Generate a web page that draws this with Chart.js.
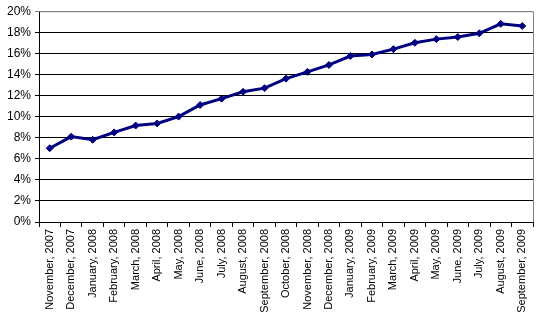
<!DOCTYPE html>
<html>
<head>
<meta charset="utf-8">
<script src="https://cdn.jsdelivr.net/npm/chart.js@4"></script>
<style>
  html, body { margin: 0; padding: 0; background: #fff; }
  #wrap { width: 540px; height: 315px; }
</style>
</head>
<body>
<div id="wrap"><canvas id="lineChart" width="540" height="315"></canvas></div>
<script>
// categories (months)
const months = ['November, 2007', 'December, 2007', 'January, 2008', 'February, 2008', 'March, 2008',
    'April, 2008', 'May, 2008', 'June, 2008', 'July, 2008', 'August, 2008', 'September, 2008',
    'October, 2008', 'November, 2008', 'December, 2008', 'January, 2009', 'February, 2009',
    'March, 2009', 'April, 2009', 'May, 2009', 'June, 2009', 'July, 2009', 'August, 2009', 'September, 2009'];
// series values, percent
const shares = [7.0, 8.1, 7.8, 8.5, 9.15, 9.35, 10.0, 11.1, 11.7, 12.35, 12.7, 13.6, 14.25, 14.9,
    15.75, 15.9, 16.4, 17.0, 17.35, 17.55, 17.9, 18.8, 18.6];
// y ticks
const yTicks = [0, 2, 4, 6, 8, 10, 12, 14, 16, 18, 20];

const lineColor = '#000080';
const fontFamily = "'Liberation Sans', Arial, sans-serif";

// gray frame on top and right of plot area
const frame = {
    id: 'frame',
    afterDraw(chart) {
        const a = chart.chartArea, c = chart.ctx;
        c.save();
        c.strokeStyle = '#808080';
        c.lineWidth = 1;
        c.beginPath();
        c.moveTo(a.left, a.top + 0.5);
        c.lineTo(a.right + 0.5, a.top + 0.5);
        c.lineTo(a.right + 0.5, a.bottom);
        c.stroke();
        c.restore();
    }
};

const ctx = document.getElementById('lineChart').getContext('2d');
new Chart(ctx, {
    type: 'line',
    data: {
        labels: months,
        datasets: [{
            data: shares,
            borderColor: lineColor,
            backgroundColor: lineColor,
            borderWidth: 3,
            tension: 0,
            pointStyle: 'rectRot',
            pointRadius: 3.5,
            pointBorderWidth: 1,
        }]
    },
    options: {
        responsive: false,
        animation: false,
        layout: { padding: { top: 10, right: 7, left: 0, bottom: 0 } },
        plugins: { legend: { display: false }, tooltip: { enabled: false } },
        scales: {
            x: {
                offset: true,
                grid: { offset: true, drawOnChartArea: false, color: '#000', tickLength: 5 },
                border: { color: '#000' },
                ticks: {
                    color: '#000',
                    autoSkip: false,
                    minRotation: 90,
                    maxRotation: 90,
                    padding: 2,
                    font: { family: fontFamily, size: 11 }
                },
                afterFit(scale) { scale.height = 93; }
            },
            y: {
                min: 0,
                max: 20,
                afterBuildTicks(scale) { scale.ticks = yTicks.map(v => ({ value: v })); },
                grid: {
                    color: (c) => c.tick && c.tick.value === 20 ? '#808080' : '#000',
                    tickLength: 4
                },
                border: { color: '#000' },
                ticks: {
                    color: '#000',
                    padding: 4,
                    font: { family: fontFamily, size: 12 },
                    callback: (v) => v + '%'
                },
                afterFit(scale) { scale.width = 39; }
            }
        }
    },
    plugins: [frame]
});
</script>
</body>
</html>
